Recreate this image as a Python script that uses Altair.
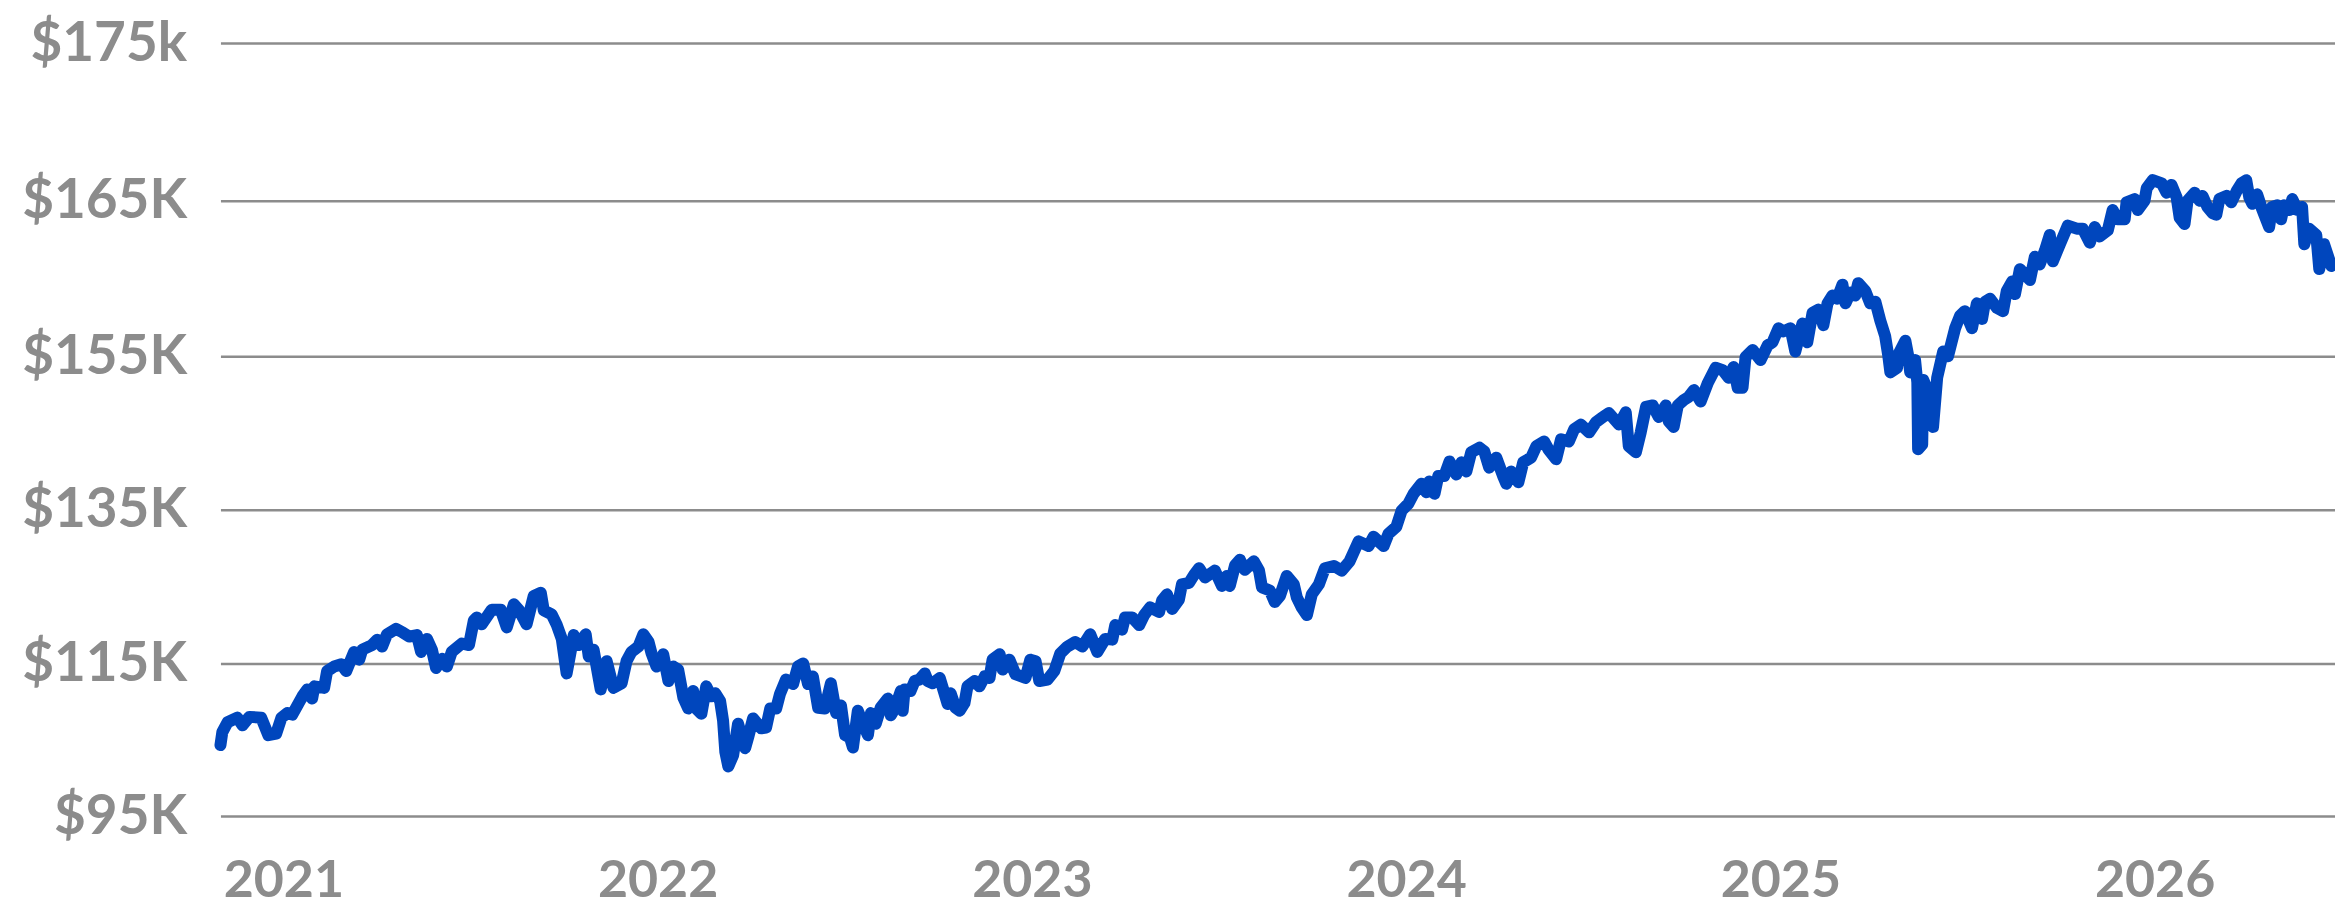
import altair as alt
import pandas as pd

# fractional year of each observation
years = [
    2020.832, 2020.837, 2020.851, 2020.877, 2020.891, 2020.909, 2020.941, 2020.960, 2020.981, 2020.995,
    2021.011, 2021.024, 2021.051, 2021.064, 2021.077, 2021.083, 2021.109, 2021.117, 2021.136, 2021.155,
    2021.168, 2021.189, 2021.203, 2021.211, 2021.237, 2021.251, 2021.264, 2021.277, 2021.301, 2021.317,
    2021.336, 2021.357, 2021.368, 2021.384, 2021.397, 2021.408, 2021.424, 2021.437, 2021.450, 2021.477,
    2021.496, 2021.509, 2021.517, 2021.530, 2021.557, 2021.581, 2021.597, 2021.616, 2021.629, 2021.650,
    2021.669, 2021.688, 2021.696, 2021.717, 2021.730, 2021.744, 2021.757, 2021.776, 2021.789, 2021.808,
    2021.816, 2021.829, 2021.848, 2021.864, 2021.882, 2021.904, 2021.917, 2021.930, 2021.949, 2021.962,
    2021.976, 2021.984, 2021.997, 2022.015, 2022.029, 2022.042, 2022.055, 2022.069, 2022.082, 2022.095,
    2022.103, 2022.117, 2022.130, 2022.143, 2022.154, 2022.167, 2022.175, 2022.181, 2022.189, 2022.202,
    2022.215, 2022.234, 2022.242, 2022.255, 2022.277, 2022.290, 2022.301, 2022.317, 2022.327, 2022.343,
    2022.362, 2022.375, 2022.389, 2022.402, 2022.415, 2022.429, 2022.447, 2022.463, 2022.477, 2022.490,
    2022.501, 2022.514, 2022.522, 2022.535, 2022.554, 2022.562, 2022.570, 2022.583, 2022.596, 2022.615,
    2022.623, 2022.634, 2022.650, 2022.655, 2022.660, 2022.676, 2022.687, 2022.700, 2022.714, 2022.722,
    2022.735, 2022.754, 2022.767, 2022.775, 2022.783, 2022.796, 2022.807, 2022.820, 2022.828, 2022.847,
    2022.860, 2022.874, 2022.887, 2022.895, 2022.914, 2022.922, 2022.940, 2022.956, 2022.983, 2022.996,
    2023.010, 2023.020, 2023.042, 2023.060, 2023.076, 2023.095, 2023.116, 2023.135, 2023.156, 2023.175,
    2023.196, 2023.215, 2023.223, 2023.241, 2023.249, 2023.268, 2023.287, 2023.300, 2023.316, 2023.340,
    2023.348, 2023.361, 2023.375, 2023.393, 2023.401, 2023.420, 2023.433, 2023.447, 2023.463, 2023.489,
    2023.508, 2023.521, 2023.529, 2023.543, 2023.556, 2023.569, 2023.593, 2023.607, 2023.615, 2023.636,
    2023.649, 2023.663, 2023.681, 2023.700, 2023.708, 2023.721, 2023.735, 2023.748, 2023.767, 2023.783,
    2023.807, 2023.828, 2023.849, 2023.873, 2023.900, 2023.913, 2023.940, 2023.953, 2023.974, 2023.988,
    2024.006, 2024.020, 2024.041, 2024.054, 2024.062, 2024.076, 2024.086, 2024.102, 2024.116, 2024.134,
    2024.148, 2024.161, 2024.174, 2024.196, 2024.209, 2024.222, 2024.241, 2024.260, 2024.268, 2024.281,
    2024.300, 2024.313, 2024.334, 2024.348, 2024.369, 2024.380, 2024.401, 2024.414, 2024.435, 2024.449,
    2024.467, 2024.489, 2024.507, 2024.526, 2024.542, 2024.569, 2024.587, 2024.595, 2024.614, 2024.627,
    2024.641, 2024.659, 2024.675, 2024.694, 2024.702, 2024.715, 2024.726, 2024.742, 2024.755, 2024.769,
    2024.787, 2024.806, 2024.827, 2024.846, 2024.862, 2024.875, 2024.886, 2024.899, 2024.907, 2024.926,
    2024.947, 2024.966, 2024.979, 2024.995, 2025.008, 2025.027, 2025.040, 2025.059, 2025.072, 2025.086,
    2025.102, 2025.115, 2025.126, 2025.139, 2025.152, 2025.166, 2025.174, 2025.187, 2025.200, 2025.208,
    2025.227, 2025.240, 2025.254, 2025.267, 2025.280, 2025.288, 2025.294, 2025.312, 2025.315, 2025.334,
    2025.342, 2025.347, 2025.360, 2025.366, 2025.368, 2025.379, 2025.382, 2025.395, 2025.406, 2025.408,
    2025.419, 2025.435, 2025.448, 2025.467, 2025.480, 2025.493, 2025.512, 2025.525, 2025.539, 2025.547,
    2025.560, 2025.579, 2025.595, 2025.605, 2025.619, 2025.627, 2025.640, 2025.667, 2025.680, 2025.693,
    2025.707, 2025.720, 2025.728, 2025.747, 2025.768, 2025.792, 2025.808, 2025.827, 2025.840, 2025.853,
    2025.875, 2025.888, 2025.901, 2025.920, 2025.925, 2025.947, 2025.955, 2025.973, 2025.979, 2025.995,
    2026.019, 2026.032, 2026.045, 2026.059, 2026.067, 2026.080, 2026.088, 2026.107, 2026.120, 2026.128,
    2026.141, 2026.155, 2026.165, 2026.173, 2026.192, 2026.205, 2026.219, 2026.232, 2026.245, 2026.253,
    2026.261, 2026.274, 2026.285, 2026.293, 2026.306, 2026.314, 2026.328, 2026.338, 2026.346, 2026.360,
    2026.368, 2026.381, 2026.394, 2026.400, 2026.413, 2026.432, 2026.440, 2026.453, 2026.472, 2026.474,
]

# portfolio value in $ thousands
values = [
    104.3, 106.0, 107.3, 107.9, 106.9, 108.0, 107.9, 105.6, 105.8, 107.9,
    108.5, 108.3, 110.7, 111.6, 110.4, 112.0, 111.8, 114.0, 114.6, 114.9,
    114.0, 116.5, 115.5, 116.8, 117.4, 118.1, 117.2, 118.8, 119.5, 119.1,
    118.5, 118.7, 116.5, 118.2, 116.8, 114.4, 115.6, 114.6, 116.5, 117.6,
    117.4, 120.6, 121.0, 120.1, 122.0, 122.0, 119.7, 122.7, 122.0, 120.1,
    123.8, 124.2, 121.9, 121.4, 120.1, 118.2, 113.7, 118.7, 117.4, 118.8,
    115.9, 116.8, 111.6, 115.3, 111.8, 112.4, 115.3, 116.5, 117.2, 118.8,
    117.8, 116.3, 114.6, 116.2, 112.7, 114.6, 114.2, 110.5, 109.1, 111.4,
    109.1, 108.4, 112.0, 110.7, 111.1, 110.1, 107.5, 103.4, 101.5, 103.0,
    107.1, 103.9, 105.3, 107.8, 106.5, 106.6, 109.1, 109.1, 111.0, 112.9,
    112.3, 114.6, 115.0, 112.3, 113.3, 109.2, 109.1, 112.4, 108.5, 109.5,
    105.6, 105.3, 104.0, 108.8, 106.5, 105.6, 108.5, 107.1, 109.2, 110.4,
    108.2, 109.1, 111.4, 108.8, 111.6, 111.4, 112.7, 112.9, 113.7, 112.7,
    112.4, 113.1, 111.0, 109.7, 111.1, 109.2, 108.8, 109.8, 112.0, 112.7,
    112.0, 113.3, 113.1, 115.5, 116.2, 114.2, 115.5, 113.6, 113.1, 115.5,
    115.3, 112.7, 112.9, 114.0, 116.3, 117.2, 117.8, 117.2, 118.8, 116.5,
    118.2, 118.1, 120.0, 119.4, 121.0, 121.0, 120.0, 121.3, 122.3, 121.7,
    123.2, 124.0, 122.1, 123.3, 125.3, 125.5, 126.5, 127.4, 126.2, 127.1,
    125.1, 126.4, 125.1, 127.8, 128.5, 127.2, 128.3, 127.1, 124.9, 124.5,
    123.0, 123.8, 126.4, 125.3, 123.6, 122.3, 121.3, 124.0, 125.3, 127.4,
    127.7, 127.1, 128.3, 130.9, 130.3, 131.5, 130.3, 131.9, 132.8, 134.9,
    135.8, 137.1, 138.4, 137.3, 138.7, 137.1, 139.4, 139.4, 141.3, 139.6,
    141.2, 140.0, 142.5, 143.1, 142.6, 140.5, 141.8, 139.3, 138.4, 140.0,
    138.6, 141.2, 141.8, 143.3, 143.9, 142.9, 141.6, 144.2, 143.9, 145.5,
    146.1, 145.1, 146.4, 147.1, 147.6, 146.1, 147.7, 143.3, 142.5, 145.1,
    148.4, 148.6, 147.1, 148.6, 146.5, 145.8, 148.6, 149.3, 149.7, 150.6,
    149.1, 151.5, 153.5, 153.2, 152.2, 153.6, 150.9, 150.9, 154.9, 155.4,
    154.5, 155.7, 155.9, 156.8, 156.6, 156.8, 155.3, 157.1, 155.9, 157.8,
    158.0, 157.0, 158.4, 158.9, 158.7, 159.6, 158.4, 159.1, 158.9, 159.7,
    159.2, 158.4, 158.5, 157.3, 156.3, 155.1, 152.9, 153.5, 155.1, 156.0,
    155.0, 152.9, 154.5, 151.6, 142.9, 143.5, 151.9, 150.4, 146.5, 145.8,
    152.2, 155.3, 155.0, 156.8, 157.6, 157.9, 156.8, 158.4, 157.4, 158.5,
    158.7, 158.1, 157.9, 159.2, 159.8, 159.0, 160.6, 159.9, 161.4, 160.9,
    161.8, 162.8, 161.1, 162.2, 163.4, 163.2, 163.2, 162.3, 163.3, 162.7,
    163.1, 164.4, 163.8, 163.8, 164.9, 165.1, 164.4, 165.0, 165.8, 166.3,
    166.1, 165.5, 166.0, 165.2, 163.9, 163.5, 165.0, 165.5, 165.0, 165.3,
    164.6, 164.2, 164.1, 165.1, 165.3, 164.9, 165.6, 166.1, 166.3, 165.2,
    164.8, 165.4, 164.6, 164.1, 163.3, 164.6, 164.7, 163.8, 164.7, 164.4,
    165.1, 164.4, 164.6, 162.2, 163.2, 162.8, 160.6, 162.2, 160.8, 161.0,
]

y_ticks = [95, 115, 135, 155, 165, 175]
x_ticks = [2021, 2022, 2023, 2024, 2025, 2026]

df = pd.DataFrame({"t": years, "v": values})

GREY = "#8c8c8c"
FONT = "Lato"

chart = (
    alt.Chart(df)
    .mark_line(color="#0046bd", strokeWidth=12, strokeCap="round", strokeJoin="round")
    .encode(
        x=alt.X(
            "t:Q",
            scale=alt.Scale(domain=[2020.832, 2026.482], nice=False, zero=False),
            axis=alt.Axis(
                values=x_ticks,
                format="d",
                grid=False,
                domain=False,
                ticks=False,
                labelFlush=False,
                labelFont=FONT,
                labelFontSize=52,
                labelFontWeight="bold",
                labelColor=GREY,
                labelPadding=40,
                title=None,
            ),
        ),
        y=alt.Y(
            "v:Q",
            scale=alt.Scale(
                domain=y_ticks,
                range=[775, 622, 468, 314, 158, 0],
                nice=False,
                zero=False,
            ),
            axis=alt.Axis(
                values=y_ticks,
                labelExpr="datum.value == 175 ? '$175k' : '$' + datum.value + 'K'",
                grid=True,
                gridColor=GREY,
                gridWidth=2.5,
                domain=False,
                ticks=False,
                labelFont=FONT,
                labelFontSize=55,
                labelFontWeight="bold",
                labelColor=GREY,
                labelPadding=34,
                title=None,
            ),
        ),
    )
    .properties(
        width=2120,
        height=775,
        autosize=alt.AutoSizeParams(type="none"),
        padding={"left": 213, "top": 34, "right": 0, "bottom": 93},
        background="white",
    )
    .configure_view(stroke=None)
)

chart.save("out.html", embed_options={"renderer": "svg", "actions": False})
